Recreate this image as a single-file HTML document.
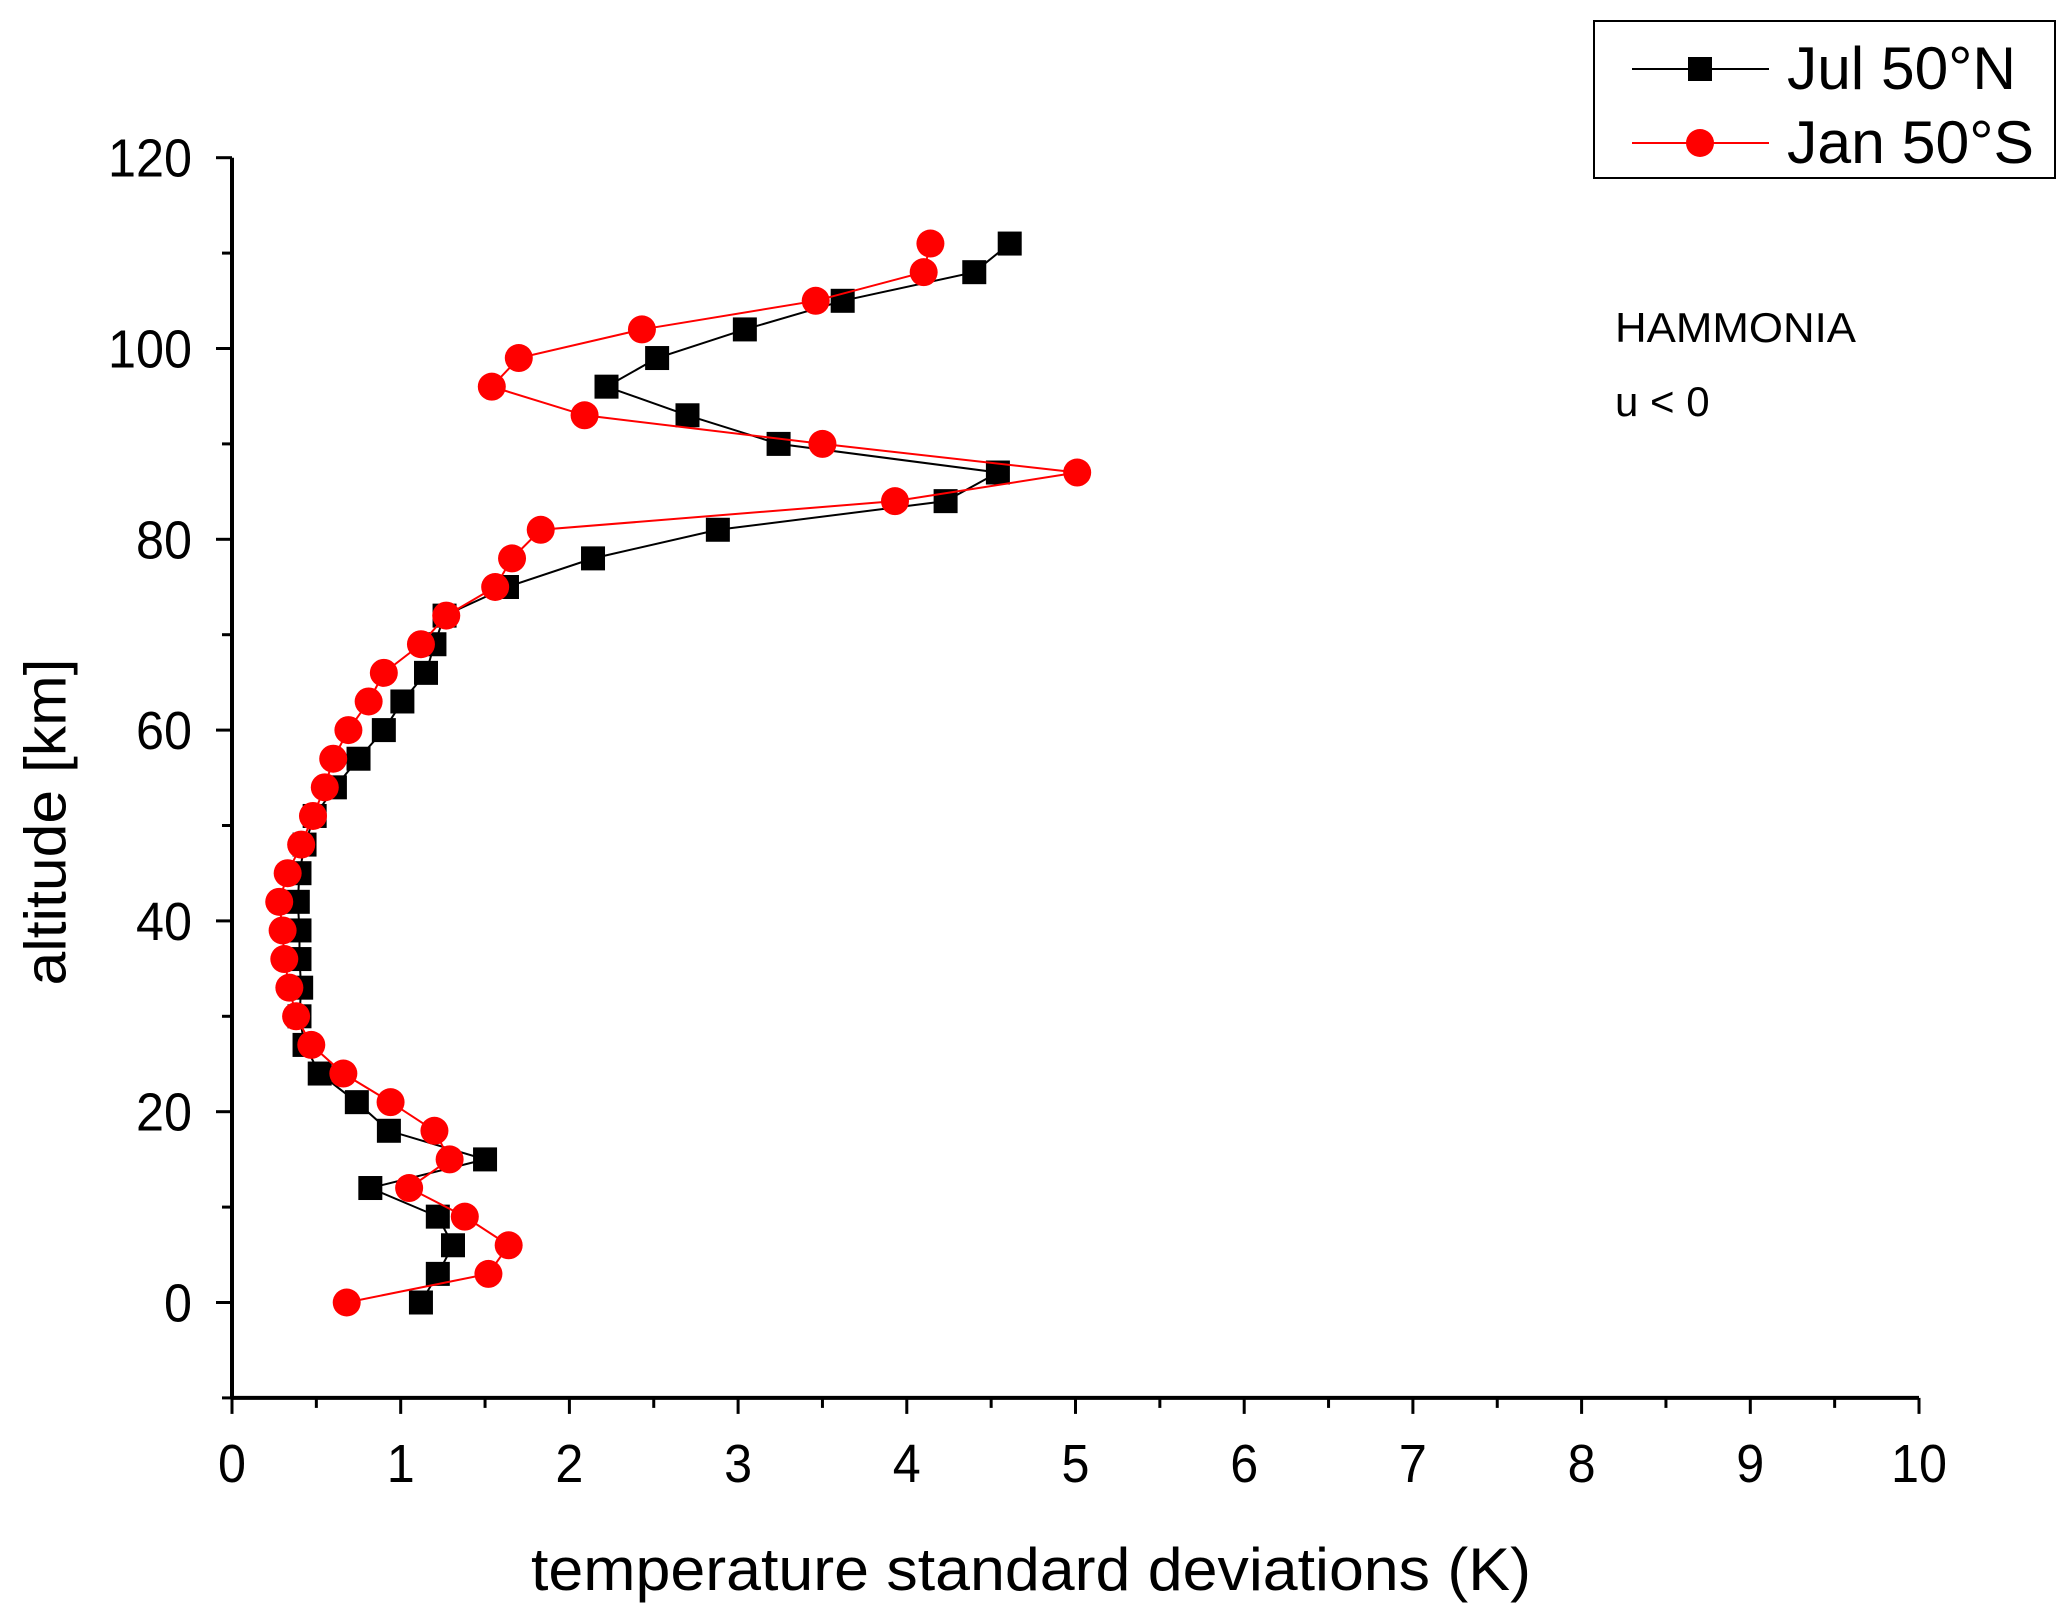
<!DOCTYPE html>
<html><head><meta charset="utf-8"><style>
html,body{margin:0;padding:0;background:#fff}
svg{display:block;font-family:"Liberation Sans",Arial,sans-serif}
</style></head><body>
<svg id="chart" width="2067" height="1617" viewBox="0 0 2067 1617">
<g id="axes"></g>
<g id="series"></g>
<text x="46" y="822" transform="rotate(-90 46 822)" text-anchor="middle" dominant-baseline="central" font-size="58" textLength="327" lengthAdjust="spacingAndGlyphs">altitude [km]</text>
<text x="1031" y="1590" text-anchor="middle" font-size="60" textLength="1000" lengthAdjust="spacingAndGlyphs">temperature standard deviations  (K)</text>
<text x="1615" y="342" font-size="42" textLength="241" lengthAdjust="spacingAndGlyphs">HAMMONIA</text>
<text x="1615" y="416" font-size="42">u &lt; 0</text>
<g>
<rect x="1594" y="21" width="461" height="157" fill="#fff" stroke="#000" stroke-width="2"/>
<g>
<line x1="1632" y1="69" x2="1769" y2="69" stroke="#000" stroke-width="2"/>
<rect x="1688" y="57" width="24" height="24" fill="#000"/>
<text x="1787" y="89" font-size="60" textLength="229" lengthAdjust="spacingAndGlyphs">Jul 50°N</text>
</g>
<g>
<line x1="1632" y1="143" x2="1769" y2="143" stroke="#f00" stroke-width="2"/>
<circle cx="1700" cy="143" r="14" fill="#f00"/>
<text x="1787" y="163" font-size="60" textLength="247" lengthAdjust="spacingAndGlyphs">Jan 50°S</text>
</g>
</g>
</svg>
<script>
const altitudes = [0,3,6,9,12,15,18,21,24,27,30,33,36,39,42,45,48,51,54,57,60,63,66,69,72,75,78,81,84,87,90,93,96,99,102,105,108,111];
const julValues = [1.12,1.22,1.31,1.22,0.82,1.50,0.93,0.74,0.52,0.43,0.40,0.41,0.40,0.40,0.39,0.40,0.43,0.49,0.61,0.75,0.90,1.01,1.15,1.20,1.26,1.63,2.14,2.88,4.23,4.54,3.24,2.70,2.22,2.52,3.04,3.62,4.40,4.61];
const janValues = [0.68,1.52,1.64,1.38,1.05,1.29,1.20,0.94,0.66,0.47,0.38,0.34,0.31,0.30,0.28,0.33,0.41,0.48,0.55,0.60,0.69,0.81,0.90,1.12,1.27,1.56,1.66,1.83,3.93,5.01,3.50,2.09,1.54,1.70,2.43,3.46,4.10,4.14];
const xTicks = [0,1,2,3,4,5,6,7,8,9,10];
const yTicks = [0,20,40,60,80,100,120];

const NS="http://www.w3.org/2000/svg";
const X0=232,X1=1919,Y0=1302.5,Y120=157.7;
const xs=v=>X0+(X1-X0)*v/10;
const ys=v=>Y0+(Y120-Y0)*v/120;
function mk(tag,attrs,parent){const e=document.createElementNS(NS,tag);for(const k in attrs)e.setAttribute(k,attrs[k]);parent.appendChild(e);return e;}
const axes=document.getElementById('axes');
const series=document.getElementById('series');
const yb=ys(-10);
let xl=mk('line',{x1:X0,y1:yb,x2:X1,y2:yb,stroke:'#000','stroke-width':4},axes);


let yl=mk('line',{x1:X0,y1:yb,x2:X0,y2:ys(120),stroke:'#000','stroke-width':4},axes);


for(let v=0;v<=10;v+=0.5){
  const major=Number.isInteger(v);
  mk('line',{x1:xs(v),y1:yb,x2:xs(v),y2:yb+(major?16:10),stroke:'#000','stroke-width':3},axes);
}
xTicks.forEach(v=>{
  const s=String(v);
  const t=mk('text',{x:xs(v),y:1482,'text-anchor':'middle','font-size':54,textLength:s.length*28,lengthAdjust:'spacingAndGlyphs'},axes);
  t.textContent=s;
  
  
});
for(let v=-10;v<=120;v+=10){
  const major=v%20===0;
  mk('line',{x1:X0,y1:ys(v),x2:X0-(major?16:10),y2:ys(v),stroke:'#000','stroke-width':3},axes);
}
yTicks.forEach(v=>{
  const s=String(v);
  const t=mk('text',{x:192,y:ys(v)+19,'text-anchor':'end','font-size':54,textLength:s.length*28,lengthAdjust:'spacingAndGlyphs'},axes);
  t.textContent=s;
  
  
});
function drawSeries(vals,color,shape,name){
  const g=mk('g',{},series);
  
  
  const pts=vals.map((v,i)=>xs(v)+','+ys(altitudes[i])).join(' ');
  const pl=mk('polyline',{points:pts,fill:'none',stroke:color,'stroke-width':2},g);
  
  
  vals.forEach((v,i)=>{
    let m;
    if(shape==='square') m=mk('rect',{x:xs(v)-12,y:ys(altitudes[i])-12,width:24,height:24,fill:color},g);
    else m=mk('circle',{cx:xs(v),cy:ys(altitudes[i]),r:14,fill:color},g);
    
    
  });
}
drawSeries(julValues,'#000','square','jul-50n');
drawSeries(janValues,'#f00','circle','jan-50s');
</script>
</body></html>
